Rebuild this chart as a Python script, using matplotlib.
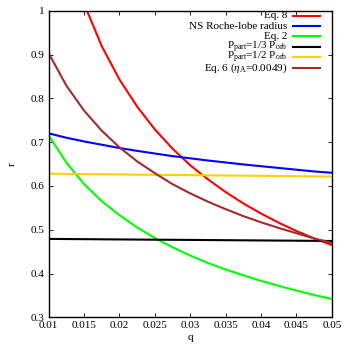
import matplotlib
matplotlib.use("Agg")
import matplotlib.pyplot as plt

plt.rcParams["font.family"] = ["Liberation Serif", "DejaVu Serif"]
plt.rcParams["mathtext.fontset"] = "custom"
plt.rcParams["mathtext.rm"] = "Liberation Serif"
plt.rcParams["mathtext.it"] = "Liberation Serif:italic"

# mass ratio grid
q = [0.01, 0.0125, 0.015, 0.0175, 0.02, 0.0225, 0.025, 0.0275, 0.03,
     0.0325, 0.035, 0.0375, 0.04, 0.0425, 0.045, 0.0475, 0.05]

eq8 = [None, None, 1.016, 0.919, 0.843, 0.781, 0.729, 0.685, 0.647,
       0.615, 0.586, 0.560, 0.537, 0.516, 0.497, 0.480, 0.465]
ns_roche = [0.720, 0.710, 0.7015, 0.694, 0.6865, 0.680, 0.674, 0.668, 0.663,
            0.658, 0.6535, 0.649, 0.645, 0.641, 0.637, 0.633, 0.630]
eq2 = [0.715, 0.653, 0.604, 0.565, 0.533, 0.505, 0.481, 0.460, 0.441,
       0.424, 0.409, 0.396, 0.383, 0.372, 0.361, 0.351, 0.342]
p_third = [0.479, 0.4787, 0.4784, 0.4781, 0.4778, 0.4775, 0.4772, 0.477, 0.4767,
           0.4764, 0.4761, 0.4758, 0.4755, 0.4752, 0.4749, 0.4746, 0.4743]
p_half = [0.628, 0.6275, 0.627, 0.6266, 0.6262, 0.6258, 0.6254, 0.625, 0.6246,
          0.6242, 0.6238, 0.6234, 0.623, 0.6226, 0.6222, 0.6218, 0.6214]
eq6 = [0.903, 0.829, 0.772, 0.726, 0.688, 0.656, 0.629, 0.604, 0.583,
       0.564, 0.547, 0.531, 0.517, 0.504, 0.492, 0.480, 0.470]

series = [
    (eq8, "Eq. 8", "#ff0000"),
    (ns_roche, "NS Roche-lobe radius", "#0000ff"),
    (eq2, "Eq. 2", "#00ff00"),
    (p_third, r"P$_{\rm part}$=1/3 P$_{\rm orb}$", "#000000"),
    (p_half, r"P$_{\rm part}$=1/2 P$_{\rm orb}$", "#ffd000"),
    (eq6, r"Eq. 6 ($\eta_{\rm A}$=0.0049)", "#a52a2a"),
]

fig = plt.figure(figsize=(3.5, 3.5), dpi=100)
ax = fig.add_axes([0.139, 0.0934, 0.809, 0.8760])

for vals, label, color in series:
    qs = [x for x, v in zip(q, vals) if v is not None]
    vs = [v for v in vals if v is not None]
    ax.plot(qs, vs, color=color, lw=1.5)

# gnuplot-style key: right-aligned text, sample line to its right
row0, row_step = 0.984, 0.0339
for i, (vals, label, color) in enumerate(series):
    y = row0 - i * row_step
    ax.plot([0.863, 0.959], [y, y], color=color, lw=1.5,
            transform=ax.transAxes, clip_on=False)
    ax.text(0.842, y - 0.009, label, ha="right", va="baseline", fontsize=8,
            transform=ax.transAxes)

ax.set_xlim(0.01, 0.05)
ax.set_ylim(0.3, 1.0)
ax.set_xticks([0.01, 0.015, 0.02, 0.025, 0.03, 0.035, 0.04, 0.045, 0.05])
ax.set_xticklabels(["0.01", "0.015", "0.02", "0.025", "0.03", "0.035",
                    "0.04", "0.045", "0.05"])
ax.set_yticks([0.3, 0.4, 0.5, 0.6, 0.7, 0.8, 0.9, 1.0])
ax.set_yticklabels(["0.3", "0.4", "0.5", "0.6", "0.7", "0.8", "0.9", "1"])
ax.tick_params(direction="in", top=True, right=True, length=3, width=0.6,
               labelsize=8)
ax.tick_params(axis="x", pad=3)
ax.tick_params(axis="y", pad=3)
for s in ax.spines.values():
    s.set_linewidth(1.0)

ax.set_xlabel("q", fontsize=8, labelpad=2)
ax.set_ylabel("r", fontsize=8, labelpad=10)

fig.savefig("out.png", dpi=100)
